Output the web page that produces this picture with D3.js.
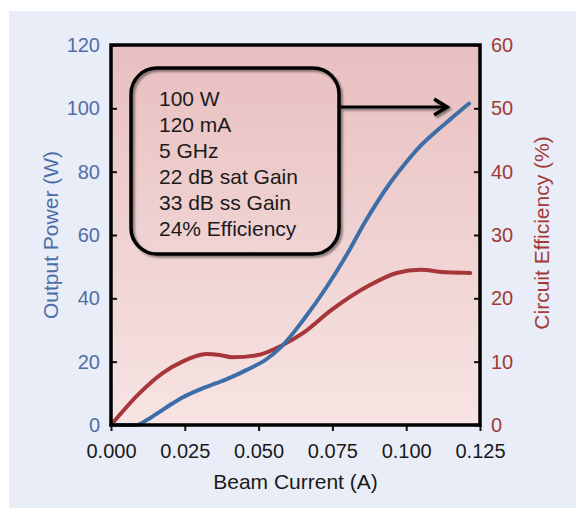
<!DOCTYPE html>
<html>
<head>
<meta charset="utf-8">
<script src="https://cdn.jsdelivr.net/npm/d3@7"></script>
<style>
  body { margin: 0; background: #ffffff; }
  svg { display: block; font-family: "Liberation Sans", Arial, sans-serif; }
</style>
</head>
<body>
<div id="chart"></div>
<script>
// beam current (A) vs output power (W)
var powerCurrent = [0, 0.005, 0.0086, 0.012, 0.0154, 0.02, 0.0242, 0.03, 0.0357, 0.041, 0.046, 0.053, 0.058, 0.065, 0.073, 0.08, 0.086, 0.0946, 0.1, 0.105, 0.11, 0.115, 0.1213];
var powerValues  = [0, 0,     0,      1.5,   3.5,    6.3,  8.7,    11.2, 13.2,   15.2,  17.4,  21,    25,    33,    43.5,  54,   64,    76.5,   83,   88.3,  92.6, 96.6,  101.5];

// beam current (A) vs circuit efficiency (%)
var effCurrent = [0, 0.0096, 0.0175, 0.0242, 0.0323, 0.0368, 0.041, 0.0493, 0.058, 0.065, 0.0745, 0.0877, 0.0968, 0.1047, 0.1138, 0.1217];
var effValues  = [0, 5,      8.2,    10,     11.2,   11.05,  10.7,  11,     12.6,  14.5,  18.1,   22.1,   24,     24.5,   24.1,   24];

var xTicks = [0, 0.025, 0.05, 0.075, 0.1, 0.125];
var powerTicks = [0, 20, 40, 60, 80, 100, 120];
var effTicks = [0, 10, 20, 30, 40, 50, 60];

var boxLines = ["100 W", "120 mA", "5 GHz", "22 dB sat Gain", "33 dB ss Gain", "24% Efficiency"];

var blue = "#3d6ea8", red = "#a6363a";
var blueText = "#4d6fa6", redText = "#a23a36";

var W = 576, H = 509;
var margin = {top: 45, right: 96, bottom: 84, left: 111},
    width = W - margin.left - margin.right,
    height = H - margin.top - margin.bottom;

var svg = d3.select("#chart").append("svg")
  .attr("width", W)
  .attr("height", H);

// outer light panel
svg.append("rect")
  .attr("x", 9).attr("y", 11)
  .attr("width", W - 9).attr("height", H - 12)
  .attr("fill", "#e9edf7");

var defs = svg.append("defs");
var grad = defs.append("linearGradient")
  .attr("id", "bg").attr("x1", 0).attr("y1", 0).attr("x2", 0).attr("y2", 1);
grad.append("stop").attr("offset", "0%").attr("stop-color", "#e8bfc0");
grad.append("stop").attr("offset", "100%").attr("stop-color", "#f7e4e3");

var shadow = defs.append("filter").attr("id", "shadow")
  .attr("x", "-10%").attr("y", "-10%").attr("width", "130%").attr("height", "130%");
shadow.append("feDropShadow")
  .attr("dx", 2).attr("dy", 2).attr("stdDeviation", 1.2)
  .attr("flood-color", "#000").attr("flood-opacity", 0.45);

var g = svg.append("g")
  .attr("transform", "translate(" + margin.left + "," + margin.top + ")");

g.append("rect")
  .attr("width", width).attr("height", height)
  .attr("fill", "url(#bg)");

var x = d3.scaleLinear().domain([0, 0.125]).range([0, width]);
var yP = d3.scaleLinear().domain([0, 120]).range([height, 0]);
var yE = d3.scaleLinear().domain([0, 60]).range([height, 0]);

// axes
var xAxis = g.append("g")
  .attr("transform", "translate(0," + height + ")")
  .call(d3.axisBottom(x).tickValues(xTicks).tickFormat(d3.format(".3f"))
    .tickSizeInner(6).tickSizeOuter(0).tickPadding(13));

var leftAxis = g.append("g")
  .call(d3.axisLeft(yP).tickValues(powerTicks)
    .tickSizeInner(-6).tickSizeOuter(0).tickPadding(11));

var rightAxis = g.append("g")
  .attr("transform", "translate(" + width + ",0)")
  .call(d3.axisRight(yE).tickValues(effTicks)
    .tickSizeInner(-6).tickSizeOuter(0).tickPadding(11));

[xAxis, leftAxis, rightAxis].forEach(function(a) {
  a.select(".domain").remove();
  a.selectAll(".tick line").attr("stroke", "#111").attr("stroke-width", 2);
  a.selectAll("text").style("font-size", "20px").attr("font-family", null);
});
xAxis.selectAll("text").attr("fill", "#1a1a1a");
leftAxis.selectAll("text").attr("fill", blueText);
rightAxis.selectAll("text").attr("fill", redText);

// curves
var powerLine = d3.line()
  .x(function(d) { return x(d[0]); })
  .y(function(d) { return yP(d[1]); })
  .curve(d3.curveMonotoneX);

var effLine = d3.line()
  .x(function(d) { return x(d[0]); })
  .y(function(d) { return yE(d[1]); })
  .curve(d3.curveMonotoneX);

g.append("path")
  .datum(d3.zip(effCurrent, effValues))
  .attr("d", effLine)
  .attr("fill", "none").attr("stroke", red).attr("stroke-width", 4)
  .attr("stroke-linecap", "round");

g.append("path")
  .datum(d3.zip(powerCurrent, powerValues))
  .attr("d", powerLine)
  .attr("fill", "none").attr("stroke", blue).attr("stroke-width", 4)
  .attr("stroke-linecap", "round");

// frame
g.append("rect")
  .attr("width", width).attr("height", height)
  .attr("fill", "none").attr("stroke", "#000").attr("stroke-width", 3.5);

// annotation box
var box = g.append("g").attr("filter", "url(#shadow)");
box.append("rect")
  .attr("x", 20).attr("y", 23)
  .attr("width", 208).attr("height", 186)
  .attr("rx", 26).attr("ry", 26)
  .attr("fill", "none").attr("stroke", "#000").attr("stroke-width", 3.5);

// arrow to the last power point
var last = powerCurrent.length - 1;
var ax1 = 230, ay = 62, ax2 = x(powerCurrent[last]) - 22;
box.append("line")
  .attr("x1", ax1).attr("y1", ay).attr("x2", ax2).attr("y2", ay)
  .attr("stroke", "#000").attr("stroke-width", 3);
box.append("path")
  .attr("d", "M" + (ax2 - 13) + "," + (ay - 8) + "L" + ax2 + "," + ay + "L" + (ax2 - 13) + "," + (ay + 8))
  .attr("fill", "none").attr("stroke", "#000").attr("stroke-width", 3.5)
  .attr("stroke-linejoin", "miter");

g.selectAll(".boxline")
  .data(boxLines)
  .enter().append("text")
  .attr("class", "boxline")
  .attr("x", 48)
  .attr("y", function(d, i) { return 61 + i * 26; })
  .attr("fill", "#1a1a1a")
  .style("font-size", "21px")
  .text(function(d) { return d; });

// axis titles
svg.append("text")
  .attr("transform", "translate(58," + (margin.top + height / 2) + ")rotate(-90)")
  .attr("text-anchor", "middle")
  .attr("fill", blueText)
  .style("font-size", "21px")
  .text("Output Power (W)");

svg.append("text")
  .attr("transform", "translate(549," + (margin.top + height / 2 - 2) + ")rotate(-90)")
  .attr("text-anchor", "middle")
  .attr("fill", redText)
  .style("font-size", "21px")
  .text("Circuit Efficiency (%)");

svg.append("text")
  .attr("x", margin.left + width / 2)
  .attr("y", 489)
  .attr("text-anchor", "middle")
  .attr("fill", "#1a1a1a")
  .style("font-size", "21px")
  .text("Beam Current (A)");
</script>
</body>
</html>
